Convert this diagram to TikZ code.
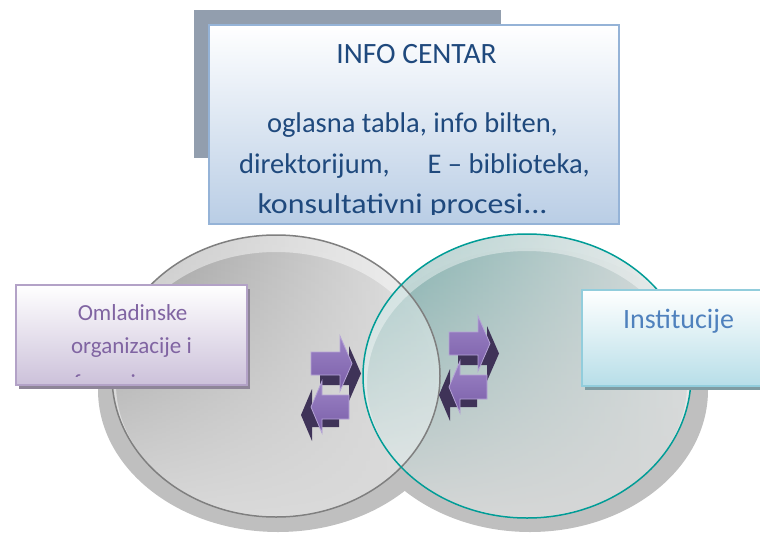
\documentclass[tikz,border=0pt]{standalone}
\usepackage{fontspec}
\setmainfont{Carlito}
\usepackage{tikz}
\usetikzlibrary{fadings}

\definecolor{shadowgray}{HTML}{BFBFBF}
\definecolor{ringgray}{HTML}{7F7F7F}
\definecolor{ringteal}{HTML}{009C96}
\definecolor{leftbase}{HTML}{DADADA}
\definecolor{leftdark}{HTML}{999999}
\definecolor{leftlight}{HTML}{E6E6E6}
\definecolor{rightbase}{HTML}{DCDEDE}
\definecolor{rightdark}{HTML}{6AA5A2}
\definecolor{rightlight}{HTML}{DCE0E0}
\definecolor{backgray}{HTML}{929EAE}
\definecolor{infoborder}{HTML}{95B3D7}
\definecolor{infobottom}{HTML}{B9CDE5}
\definecolor{infotext}{HTML}{1F497D}
\definecolor{purpleborder}{HTML}{B3A2C7}
\definecolor{purplebottom}{HTML}{CCC1DA}
\definecolor{purpletext}{HTML}{8064A2}
\definecolor{purpleshadow}{HTML}{8E8598}
\definecolor{tealborder}{HTML}{92CDDC}
\definecolor{tealbottom}{HTML}{B7DEE8}
\definecolor{tealtext}{HTML}{4F81BD}
\definecolor{tealshadow}{HTML}{7F9CA2}
\definecolor{arrowtop}{HTML}{9C84C6}
\definecolor{arrowbottom}{HTML}{7A5EA8}
\definecolor{arrowedge}{HTML}{B5A3D6}
\definecolor{arrowdark}{HTML}{3F3358}

\tikzset{
  infotxt/.style={anchor=base, text=infotext, font=\fontsize{28.5}{30}\selectfont},
  grouptxt/.style={anchor=base, text=purpletext, font=\fontsize{23}{26}\selectfont},
  insttxt/.style={anchor=base, text=tealtext, font=\fontsize{28}{30}\selectfont},
  arrowfront/.style={top color=arrowtop, bottom color=arrowbottom, draw=arrowedge, line width=0.8pt},
}

\begin{document}
\begin{tikzpicture}[x=1pt,y=-1pt]
\useasboundingbox (0,0) rectangle (760,533);
% shadows of the two circles
\fill[shadowgray] (278,390) ellipse (180 and 142);
\fill[shadowgray] (530,390) ellipse (178 and 142);
% left circle
\fill[leftbase] (276,376) ellipse (164 and 141);
\shade[left color=leftdark, right color=leftlight, path fading=south] (276,376) ellipse (164 and 141);
\fill[white, fill opacity=0.45, even odd rule] (276,376) ellipse (164 and 141) (276,384) ellipse (160 and 132);
% right circle
\fill[rightbase, fill opacity=0.8] (527,376) ellipse (164 and 142);
\shade[left color=rightdark, right color=rightlight, path fading=south, fill opacity=0.85] (527,376) ellipse (164 and 142);
\fill[white, fill opacity=0.4, even odd rule] (527,376) ellipse (164 and 142) (527,384) ellipse (160 and 133);
% lighter lens where they overlap
\begin{scope}
  \clip (276,376) ellipse (164 and 141);
  \fill[white, fill opacity=0.35] (527,376) ellipse (164 and 142);
\end{scope}
\draw[ringgray, line width=1.5pt] (276,376) ellipse (164 and 141);
\draw[ringteal, line width=1.5pt] (527,376) ellipse (164 and 142);

% info centar
\fill[backgray] (194,10) rectangle (501,158);
\node[draw=infoborder, line width=2pt, top color=white, bottom color=infobottom,
  minimum width=410pt, minimum height=199pt, inner sep=0pt] (info) at (414,124.5) {};
\node[infotxt, font=\fontsize{29.5}{30}\selectfont] (title) at (416.5,63) {INFO CENTAR};
\begin{scope}
  \clip (209,25) rectangle (619,214);
  \node[infotxt] (line1) at (412.5,132) {oglasna tabla, info bilten,};
  \node[infotxt] (line2) at (414.5,173) {direktorijum,\hspace{38pt}E -- biblioteka,};
  \node[infotxt] (line3) at (402.5,213) {\scalebox{1.12}[1]{konsultativni procesi...}};
\end{scope}

% omladinske organizacije
\fill[purpleshadow] (19,289) rectangle (250,389);
\node[draw=purpleborder, line width=2pt, top color=white, bottom color=purplebottom,
  minimum width=231pt, minimum height=100pt, inner sep=0pt] (groups) at (131.5,335) {};
\begin{scope}
  \clip (16,285) rectangle (247,376);
  \node[grouptxt] (group1) at (132.5,320) {Omladinske};
  \node[grouptxt] (group2) at (131.5,353) {organizacije i};
  \node[grouptxt, anchor=base west] (group3) at (70,390) {forumi};
\end{scope}

% institucije
\fill[tealshadow] (585,294) rectangle (777,390);
\node[draw=tealborder, line width=2pt, top color=white, bottom color=tealbottom,
  minimum width=192pt, minimum height=96pt, inner sep=0pt] (inst) at (678,338) {};
\node[insttxt] (insttitle) at (678.5,328) {Institucije};

% arrows to the right
\foreach \x/\y in {311/352, 449/332} {
  \fill[arrowdark] (\x+9,\y+10) -- ++(29,0) -- ++(0,-16) -- ++(12,27.5) -- ++(-12,27.5) -- ++(0,-16) -- ++(-29,0) -- cycle;
  \path[arrowfront] (\x,\y) -- ++(29,0) -- ++(0,-16) -- ++(12,27.5) -- ++(-12,27.5) -- ++(0,-16) -- ++(-29,0) -- cycle;
}
% arrows to the left
\foreach \x/\y in {322/395, 460/375} {
  \fill[arrowdark] (\x-10,\y+8) -- ++(27,0) -- ++(0,24) -- ++(-27,0) -- ++(0,14) -- ++(-11,-26) -- ++(11,-26) -- cycle;
  \path[arrowfront] (\x,\y) -- ++(27,0) -- ++(0,24) -- ++(-27,0) -- ++(0,14) -- ++(-11,-26) -- ++(11,-26) -- cycle;
}
\end{tikzpicture}
\end{document}
